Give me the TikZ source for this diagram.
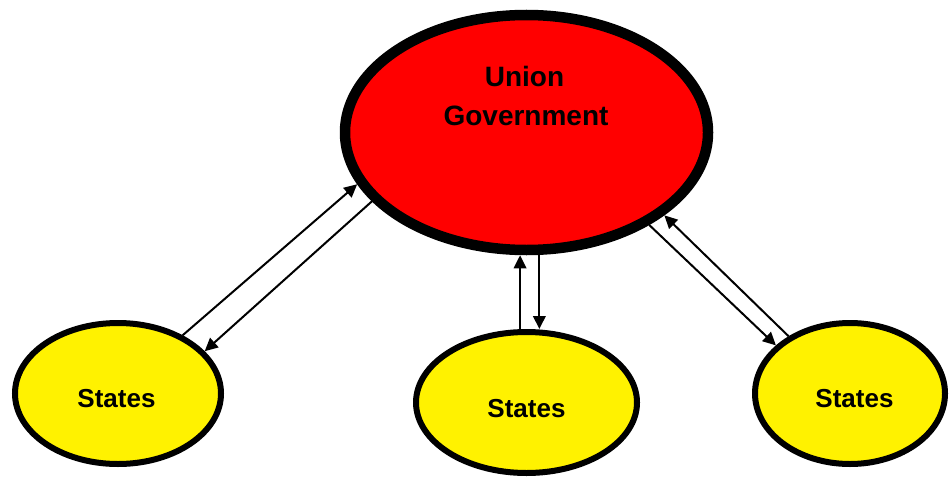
\documentclass[tikz,border=0pt]{standalone}
\usepackage{fontspec}
\setmainfont{Liberation Sans}
\usetikzlibrary{shapes.geometric,arrows.meta}
\tikzset{
  union/.style={ellipse, draw=black, fill=red, line width=10.5pt, inner sep=0pt,
    minimum width=363pt, minimum height=235pt},
  statebox/.style={ellipse, draw=black, fill=yellow, line width=6pt, inner sep=0pt,
    minimum height=141pt},
  lbl/.style={font=\fontsize{26}{30}\selectfont\bfseries, inner sep=0pt, anchor=base},
  ulbl/.style={font=\fontsize{28}{32}\selectfont\bfseries, inner sep=0pt, anchor=base},
  arr/.style={line width=2pt, -{Triangle[length=13pt,width=12.5pt]}}
}
\begin{document}
\begin{tikzpicture}[x=1pt,y=-1pt]
\useasboundingbox (0,0) rectangle (949,476);
\node[union] (U) at (526.5,132.5) {};
\node[statebox, minimum width=206pt] (L) at (118,393.5) {};
\node[statebox, minimum width=221pt] (M) at (526.5,402.5) {};
\node[statebox, minimum width=190pt] (R) at (850,393.5) {};
\node[ulbl] (ut1) at (524.5,87) {Union};
\node[ulbl] (ut2) at (526,125) {Government};
\node[lbl] (lt) at (116.5,407) {States};
\node[lbl] (mt) at (526.5,417) {States};
\node[lbl] (rt) at (854.5,407) {States};
% left pair
\draw[arr] (L.42.9) -- (U.197.8);
\draw[arr] (U.204.5) -- (L.26.3);
% middle pair
\draw[arr] (M.95.1) -- (M.95.1 |- U.south);
\draw[arr] (U.276.3) -- (U.276.3 |- M.north);
% right pair
\draw[arr] (U.323.2) -- (R.147.8);
\draw[arr] (R.137.1) -- (U.329.8);
\end{tikzpicture}
\end{document}
